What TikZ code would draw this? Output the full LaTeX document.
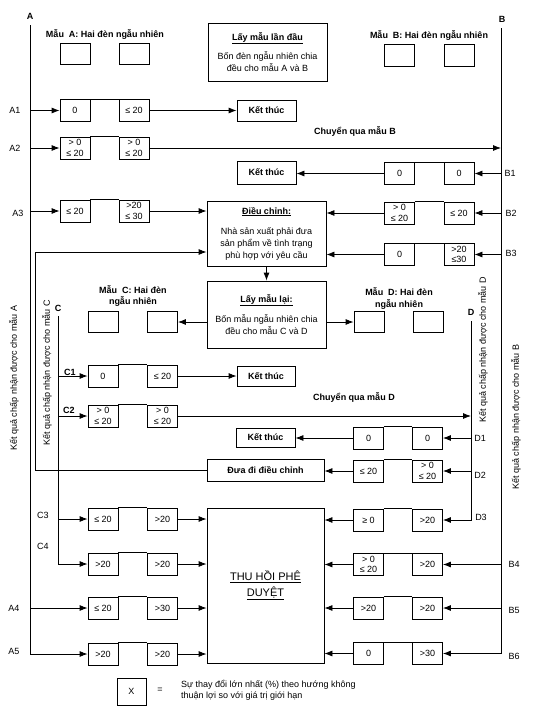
\documentclass[tikz,border=0pt]{standalone}
\usepackage{fontspec}
\setmainfont{Liberation Sans}
\usetikzlibrary{arrows.meta}
\tikzset{
  cell/.style={draw, line width=0.8pt, minimum width=30pt, minimum height=22pt, inner sep=0pt, align=center, font=\fontsize{9}{10.5}\selectfont},
  endbox/.style={draw, line width=0.8pt, minimum width=59pt, minimum height=21pt, inner sep=0pt, font=\bfseries\fontsize{9}{11}\selectfont},
  bigbox/.style={draw, line width=0.8pt, minimum width=119pt, inner sep=0pt, align=center, font=\fontsize{9}{12}\selectfont},
  lab/.style={inner sep=0pt, align=center, font=\fontsize{9}{11}\selectfont},
  blab/.style={inner sep=0pt, align=center, font=\bfseries\fontsize{9}{11.5}\selectfont},
  rot/.style={lab, rotate=90},
  arr/.style={line width=0.8pt, -{Latex[length=8pt,width=6pt]}},
  ln/.style={line width=0.8pt},
}
\newcommand\mkpair[6]{%
  \node[cell] (#1l) at (#2,#4) {#5};
  \node[cell] (#1r) at (#3,#4) {#6};
  \draw[ln] (#1l.north east) -- (#1r.north west);}
\begin{document}
\begin{tikzpicture}[x=1pt,y=-1pt]
\useasboundingbox (0,0) rectangle (537,710);

% ---- main vertical lines and labels
\node[blab] (labA) at (30,16) {A};
\node[blab] (labB) at (502,19) {B};
\coordinate (aTop) at (30,25);
\coordinate (bTop) at (501,28);
\node[blab] (labC) at (58,308) {C};
\node[blab] (labD) at (471,312) {D};
\coordinate (cTop) at (58,316);
\coordinate (dTop) at (471,321);

% ---- header
\node[blab] (mA) at (105,34) {Mẫu\ \ A: Hai đèn ngẫu nhiên};
\node[cell, minimum height=21pt] (sA1) at (75,53.5) {};
\node[cell, minimum height=21pt] (sA2) at (134,53.5) {};
\node[bigbox, minimum height=58pt] (lm1) at (267.5,52)
  {\textbf{\underline{Lấy mẫu lần đầu}}\\[7pt]Bốn đèn ngẫu nhiên chia\\đều cho mẫu A và B};
\node[blab] (mB) at (429,35) {Mẫu\ \ B: Hai đèn ngẫu nhiên};
\node[cell] (sB1) at (399.5,55.5) {};
\node[cell] (sB2) at (459,55.5) {};

% ---- rows A1..A3, B1..B3
\mkpair{a1}{75}{134}{110.5}{0}{≤ 20}
\mkpair{a2}{75}{134}{148}{> 0\\≤ 20}{> 0\\≤ 20}
\mkpair{a3}{75}{134}{211}{≤ 20}{>20\\≤ 30}
\mkpair{b1}{399.5}{459}{173.5}{0}{0}
\mkpair{b2}{399.5}{459}{213}{> 0\\≤ 20}{≤ 20}
\mkpair{b3}{399.5}{459}{254.5}{0}{>20\\≤30}

\node[endbox] (k1) at (266.5,110.5) {Kết thúc};
\node[endbox, minimum height=23pt] (k2) at (266.5,172.5) {Kết thúc};
\node[blab] (chB) at (355,131) {Chuyển qua mẫu B};

\node[bigbox, minimum height=65pt] (dc) at (266.5,233.5)
  {\textbf{\underline{Điều chỉnh:}}\\[8pt]Nhà sản xuất phải đưa\\sản phẩm về tình trạng\\phù hợp với yêu cầu};
\node[bigbox, minimum height=67pt] (lm2) at (266.5,314.5)
  {\textbf{\underline{Lấy mẫu lại:}}\\[8pt]Bốn mẫu ngẫu nhiên chia\\đều cho mẫu C và D};

\node[blab] (mC) at (133,296) {Mẫu\ \ C: Hai đèn\\ngẫu nhiên};
\node[cell, minimum height=21pt] (sC1) at (103,322) {};
\node[cell, minimum height=21pt] (sC2) at (162.5,322) {};
\node[blab] (mD) at (399,298.5) {Mẫu\ \ D: Hai đèn\\ngẫu nhiên};
\node[cell, minimum height=21pt] (sD1) at (369,322) {};
\node[cell, minimum height=21pt] (sD2) at (428,322) {};

% ---- rows C, D
\mkpair{c1}{103}{162.5}{376}{0}{≤ 20}
\mkpair{c2}{103}{162.5}{416}{> 0\\≤ 20}{> 0\\≤ 20}
\mkpair{d1}{368.5}{427.5}{438}{0}{0}
\mkpair{d2}{368.5}{427.5}{471}{≤ 20}{> 0\\≤ 20}
\mkpair{d3}{368.5}{427.5}{520}{≥ 0}{>20}
\mkpair{c3}{103}{162.5}{519}{≤ 20}{>20}
\mkpair{c4}{103}{162.5}{564}{>20}{>20}
\mkpair{a4}{103}{162.5}{608}{≤ 20}{>30}
\mkpair{a5}{103}{162.5}{654}{>20}{>20}
\mkpair{b4}{368.5}{427.5}{564.5}{> 0\\≤ 20}{>20}
\mkpair{b5}{368.5}{427.5}{608}{>20}{>20}
\mkpair{b6}{368.5}{427.5}{653.5}{0}{>30}

\node[endbox, minimum height=20pt, minimum width=58pt] (k3) at (266,376) {Kết thúc};
\node[endbox, minimum height=19pt] (k4) at (265.5,437.5) {Kết thúc};
\node[blab] (chD) at (354,397) {Chuyển qua mẫu D};
\node[endbox, minimum width=117pt, minimum height=22pt] (dd) at (265.5,470) {Đưa đi điều chỉnh};
\node[draw, line width=0.8pt, minimum width=117pt, minimum height=155pt, inner sep=0pt, align=center,
  font=\fontsize{11}{16}\selectfont] (th) at (265.5,585.5) {\underline{THU HỒI PHÊ}\\\underline{DUYỆT}};

% ---- row labels
\node[lab] (lA1) at (15,110) {A1};
\node[lab] (lA2) at (15,148) {A2};
\node[lab] (lA3) at (18,213) {A3};
\node[lab] (lA4) at (14,608) {A4};
\node[lab] (lA5) at (14,651) {A5};
\node[lab] (lB1) at (510,173) {B1};
\node[lab] (lB2) at (511,213) {B2};
\node[lab] (lB3) at (511,253) {B3};
\node[lab] (lB4) at (514,564) {B4};
\node[lab] (lB5) at (514,610) {B5};
\node[lab] (lB6) at (514,656) {B6};
\node[blab] (lC1) at (70,372) {C1};
\node[blab] (lC2) at (69,410) {C2};
\node[lab] (lC3) at (43,515) {C3};
\node[lab] (lC4) at (43,546) {C4};
\node[lab] (lD1) at (480,438) {D1};
\node[lab] (lD2) at (480,475) {D2};
\node[lab] (lD3) at (481,517) {D3};

% ---- rotated labels
\node[rot] (rA) at (14,378) {Kết quả chấp nhận được cho mẫu A};
\node[rot] (rC) at (47,373) {Kết quả chấp nhận được cho mẫu C};
\node[rot] (rD) at (483,350) {Kết quả chấp nhận được cho mẫu D};
\node[rot] (rB) at (516,417) {Kết quả chấp nhận được cho mẫu B};

% ---- legend
\node[cell, minimum width=29pt, minimum height=27pt] (lgX) at (131.5,691.5) {X};
\node[lab] (lgEq) at (160,690) {=};
\node[lab, anchor=west, align=left] (lgT) at (181,690.5) {Sự thay đổi lớn nhất (\%) theo hướng không\\thuận lợi so với giá trị giới hạn};

% ---- connectors: A side
\draw[arr] (aTop) |- (a5l.west);
\draw[arr] (aTop |- a1l.west) -- (a1l.west);
\draw[arr] (aTop |- a2l.west) -- (a2l.west);
\draw[arr] (aTop |- a3l.west) -- (a3l.west);
\draw[arr] (aTop |- a4l.west) -- (a4l.west);
\draw[arr] (a1r.east) -- (k1.west);
\draw[arr] (a2r.east) -- (bTop |- a2r.east);
\draw[arr] (a3r.east) -- (dc.west |- a3r.east);
\draw[arr] (a4r.east) -- (th.west |- a4r.east);
\draw[arr] (a5r.east) -- (th.west |- a5r.east);

% ---- B side
\draw[arr] (bTop) |- (b6r.east);
\draw[arr] (bTop |- b1r.east) -- (b1r.east);
\draw[arr] (bTop |- b2r.east) -- (b2r.east);
\draw[arr] (bTop |- b3r.east) -- (b3r.east);
\draw[arr] (bTop |- b4r.east) -- (b4r.east);
\draw[arr] (bTop |- b5r.east) -- (b5r.east);
\draw[arr] (b1l.west) -- (k2.east |- b1l.west);
\draw[arr] (b2l.west) -- (dc.east |- b2l.west);
\draw[arr] (b3l.west) -- (dc.east |- b3l.west);
\draw[arr] (b4l.west) -- (th.east |- b4l.west);
\draw[arr] (b5l.west) -- (th.east |- b5l.west);
\draw[arr] (b6l.west) -- (th.east |- b6l.west);

% ---- centre
\draw[arr] (dc.south) -- (lm2.north);
\draw[arr] (lm2.west |- sC2.east) -- (sC2.east);
\draw[arr] (lm2.east |- sD1.west) -- (sD1.west);

% ---- C side
\draw[arr] (cTop) |- (c4l.west);
\draw[arr] (cTop |- c1l.west) -- (c1l.west);
\draw[arr] (cTop |- c2l.west) -- (c2l.west);
\draw[arr] (cTop |- c3l.west) -- (c3l.west);
\draw[arr] (c1r.east) -- (k3.west);
\draw[arr] (c2r.east) -- (dTop |- c2r.east);
\draw[arr] (c3r.east) -- (th.west |- c3r.east);
\draw[arr] (c4r.east) -- (th.west |- c4r.east);

% ---- D side
\draw[arr] (dTop) |- (d3r.east);
\draw[arr] (dTop |- d1r.east) -- (d1r.east);
\draw[arr] (dTop |- d2r.east) -- (d2r.east);
\draw[arr] (d1l.west) -- (k4.east |- d1l.west);
\draw[arr] (d2l.west) -- (dd.east |- d2l.west);
\draw[arr] (d3l.west) -- (th.east |- d3l.west);

% ---- feedback to adjustment
\coordinate (fb) at (35,252);
\draw[arr] (dd.west) -| (fb) -- (dc.west |- fb);
\end{tikzpicture}
\end{document}
